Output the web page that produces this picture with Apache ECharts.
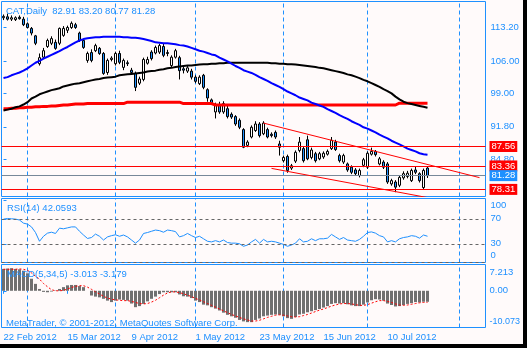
<!DOCTYPE html>
<html><head><meta charset="utf-8">
<script src="https://cdn.jsdelivr.net/npm/echarts@6/dist/echarts.min.js"></script>
<style>html,body{margin:0;padding:0;background:#FFFAFA;overflow:hidden}#c{width:527px;height:348px}</style>
</head><body><div id="c"></div>
<script>
// ---------- data ----------
const dateLabels = ['22 Feb 2012','15 Mar 2012','9 Apr 2012','1 May 2012','23 May 2012','15 Jun 2012','10 Jul 2012'];
const dateLabelIdx = [0,16,32,48,64,80,96];
const monthGridIdx = [6,28,48,70,91,114];

const opens = [115.3,115.5,115.0,114.9,115.4,115.0,114.0,113.0,111.4,105.4,
106.8,109.1,109.8,110.0,109.8,111.5,112.6,113.2,113.8,112.0,
110.4,106.1,107.8,108.2,108.7,107.6,103.5,106.3,105.4,107.6,
104.6,105.6,104.0,103.3,101.2,102.0,105.5,107.9,107.7,107.9,
109.1,107.8,105.0,106.8,106.7,104.3,103.8,103.8,102.5,101.1,
102.9,99.8,97.6,95.0,96.6,95.0,95.7,94.5,94.0,93.2,
91.2,87.8,89.6,91.0,92.4,90.3,91.2,90.2,90.6,88.1,
84.5,85.4,82.9,84.4,86.7,87.1,89.0,85.2,86.0,84.9,
85.3,85.9,87.1,88.5,85.6,84.2,83.8,83.1,82.5,81.3,
83.5,83.1,85.9,86.5,83.8,84.2,83.8,79.5,79.9,79.2,
80.8,81.1,80.2,82.5,81.7,78.7,82.91];
const highs = [116.0,116.2,115.8,115.6,115.8,115.5,114.3,113.3,111.6,107.6,
108.8,110.8,111.3,110.6,113.2,113.5,113.6,114.5,114.2,112.3,
110.6,108.0,108.5,109.7,109.0,107.9,106.5,107.0,108.0,108.2,
106.5,106.1,104.5,103.7,102.6,106.7,106.9,108.3,109.3,109.7,
109.8,108.4,107.2,108.6,107.1,104.8,105.0,104.3,102.9,102.9,
103.2,100.1,97.9,97.0,97.2,97.3,96.3,94.9,94.3,93.6,
91.5,88.9,92.1,93.0,92.8,93.0,91.6,90.6,91.0,88.8,
85.6,85.8,83.8,86.7,89.6,87.5,89.9,87.3,86.4,86.4,
86.5,86.9,89.6,89.0,86.0,86.0,84.1,83.5,82.9,82.8,
85.1,86.5,87.3,86.8,85.3,84.6,84.2,80.6,80.3,81.3,
82.2,82.3,82.8,83.2,82.0,82.8,83.20];
const lows = [114.8,114.7,114.6,114.6,114.9,113.5,113.0,111.5,109.4,105.0,
106.4,108.8,109.4,108.4,109.4,111.2,112.0,112.9,112.9,110.1,
108.6,105.6,105.7,107.9,107.3,103.0,103.0,105.9,105.0,105.3,
104.0,104.9,103.0,99.5,100.8,101.6,105.2,106.1,107.4,107.5,
106.8,107.0,104.6,106.5,102.0,103.3,103.4,102.0,101.2,100.8,
99.9,97.2,96.6,93.6,94.6,94.6,93.6,93.5,92.0,91.3,
87.2,87.4,89.3,90.7,89.5,90.0,89.3,89.5,89.2,85.6,
84.1,81.9,82.5,84.0,86.3,84.1,84.6,84.8,84.1,84.6,
84.9,85.6,86.8,86.6,84.1,83.8,82.1,81.6,81.3,80.9,
83.1,82.7,85.6,85.4,83.5,82.7,79.5,79.1,77.7,78.8,
80.4,80.7,79.9,81.6,79.8,78.4,80.77];
const closes = [115.6,115.0,115.3,115.3,115.1,113.8,113.2,112.0,109.8,106.7,
108.2,110.4,110.8,108.7,113.0,113.0,113.2,114.1,113.2,110.4,
108.9,107.6,106.1,109.3,107.6,103.3,106.1,106.6,107.6,105.7,
106.1,105.4,103.5,100.3,102.1,106.3,106.3,106.5,108.9,109.3,
107.2,107.6,106.8,108.2,103.9,104.0,104.5,102.5,101.6,102.5,
100.3,98.0,97.0,96.6,95.0,96.8,94.0,93.9,92.4,91.7,
87.4,88.5,91.7,92.4,89.9,92.6,89.6,89.9,89.6,87.4,
85.2,82.4,83.4,86.3,88.5,84.5,84.9,86.8,84.5,86.0,
86.1,86.5,88.9,86.9,84.5,85.6,82.5,82.0,81.7,82.4,
84.7,86.1,86.5,85.8,84.9,83.1,79.9,80.2,78.8,80.9,
81.7,81.8,82.4,82.0,80.2,82.4,81.28];

const maBlue = [102.3,102.5,102.9,103.2,103.5,103.9,104.4,105.0,105.6,106.0,
106.5,106.9,107.3,107.7,108.1,108.6,109.0,109.5,110.0,110.4,
110.7,110.9,111.0,111.1,111.1,111.2,111.2,111.2,111.2,111.2,
111.1,111.1,111.0,111.0,110.9,110.7,110.5,110.3,110.0,109.9,
109.8,109.8,109.7,109.6,109.4,109.3,109.1,108.8,108.5,108.2,
108.0,107.7,107.4,107.2,106.7,106.3,105.9,105.4,104.9,104.5,
104.0,103.7,103.4,103.0,102.5,102.1,101.7,101.2,100.8,100.4,
99.9,99.4,99.0,98.6,98.1,97.8,97.5,97.0,96.7,96.4,
96.1,95.6,95.2,94.8,94.3,93.9,93.5,93.0,92.6,92.2,
91.7,91.4,91.0,90.6,90.1,89.7,89.3,88.8,88.4,88.0,
87.6,87.1,86.8,86.5,86.1,85.9,85.8];
const maBlack = [95.3,95.5,95.7,96.0,96.2,96.6,97.1,97.9,98.3,98.8,
99.1,99.4,99.7,99.9,100.1,100.5,100.7,100.9,101.1,101.2,
101.4,101.6,101.8,102.0,102.1,102.3,102.4,102.5,102.6,102.9,
103.0,103.1,103.2,103.3,103.4,103.5,103.7,103.8,103.9,104.1,
104.2,104.4,104.5,104.7,104.8,104.9,105.0,105.0,105.1,105.2,
105.3,105.3,105.4,105.4,105.5,105.5,105.6,105.6,105.6,105.6,
105.6,105.6,105.6,105.6,105.6,105.6,105.6,105.5,105.5,105.4,
105.4,105.3,105.3,105.2,105.1,105.0,104.9,104.8,104.7,104.5,
104.4,104.2,104.0,103.8,103.6,103.4,103.1,102.9,102.6,102.3,
101.9,101.6,101.2,100.8,100.4,99.9,99.5,99.0,98.3,97.7,
97.2,96.9,96.7,96.5,96.3,96.1,95.9];
const maRed = [95.7,95.7,95.8,95.8,95.9,
95.9,96.0,96.0,96.1,96.1,96.2,96.2,
96.3,96.3,96.4,96.5,96.5,96.6,
96.7,96.7,96.7,96.8,96.8,96.8,96.8,96.8,96.8,96.8,96.8,96.8,96.8,
97.1,97.1,97.1,97.1,97.1,97.1,97.1,97.1,97.1,97.1,97.1,97.1,97.1,97.1,
96.8,96.8,96.8,96.8,96.8,96.8,96.8,96.8,
96.5,96.5,96.5,96.5,96.5,96.5,96.5,96.5,96.5,96.5,96.5,96.5,96.5,96.5,96.5,96.5,
96.5,96.5,96.5,96.5,96.5,96.5,96.5,96.5,96.5,96.5,96.5,96.5,96.5,96.5,96.5,96.5,
96.5,96.5,96.5,96.5,96.5,96.5,96.5,96.5,96.5,96.5,96.5,96.5,96.5,96.5,
96.9,96.9,96.9,96.9,96.9,96.9,96.9,96.9];

const rsi = [69.5,70.5,70,69.5,68,63,61.5,57,48,34,
42,47,48.5,46.5,55,54,55.5,57,57,50,
44,38.5,40,45.5,42,36,41,43,44.4,42,
44,41,36,31,36,46.5,48,50,52,51,
48.5,52,51,49.5,41,43,46.5,43,40,42,
38,34,33,35,33,36,32,31,31,30,
26,28,33,37,31,37,33,34,33,31,
29,26,28,31,38,33,34,38,35,38,
38,39,45,41,37,40,36,35,34,37,
42,48,49,47,43,41,33,35,33,38,
40,41,43,42,39,44,42.06];
const macdHist = [6.0,6.1,6.2,6.0,5.9,5.5,4.8,3.3,1.9,0.5,
-0.3,-0.4,-0.2,0.1,0.5,1.0,1.5,1.6,1.6,1.3,
1.0,0.0,-1.3,-1.6,-1.8,-2.2,-2.7,-3.1,-2.7,-2.4,
-2.5,-2.7,-3.5,-4.5,-4.2,-3.6,-2.9,-2.2,-1.6,-0.9,
-0.4,-0.4,-0.4,-0.4,-1.0,-1.5,-1.6,-2.0,-2.7,-3.1,
-3.8,-4.0,-4.5,-4.9,-5.4,-6.0,-6.6,-7.0,-7.4,-8.0,
-8.4,-8.6,-8.6,-8.0,-7.6,-7.0,-6.8,-6.6,-6.5,-6.6,
-7.0,-7.5,-7.7,-7.2,-6.5,-6.3,-5.9,-5.6,-5.3,-5.0,
-4.6,-4.2,-3.6,-3.4,-3.5,-3.4,-3.7,-4.0,-4.2,-4.2,
-3.8,-3.2,-2.6,-2.3,-2.4,-2.7,-3.5,-3.9,-4.3,-4.2,
-3.9,-3.6,-3.4,-3.1,-3.2,-3.0,-3.013];
const macdSignal = [5.9,5.9,5.9,5.9,6.0,5.9,5.6,4.9,4.0,3.2,
2.0,1.1,0.3,0.0,0.0,0.1,0.5,0.9,1.2,1.4,
1.4,1.0,0.4,-0.3,-0.9,-1.5,-2.0,-2.3,-2.5,-2.6,
-2.7,-2.7,-2.9,-3.2,-3.5,-3.6,-3.5,-3.1,-2.6,-1.9,
-1.2,-0.6,-0.3,-0.3,-0.5,-0.8,-1.2,-1.6,-2.1,-2.5,
-3.0,-3.5,-4.0,-4.5,-5.0,-5.5,-6.0,-6.5,-6.9,-7.3,
-7.7,-8.0,-8.3,-8.3,-8.1,-7.7,-7.3,-7.0,-6.7,-6.6,
-6.7,-6.9,-7.1,-7.2,-7.1,-6.8,-6.5,-6.1,-5.7,-5.3,
-5.0,-4.6,-4.2,-3.9,-3.6,-3.5,-3.5,-3.6,-3.8,-4.0,
-4.0,-3.8,-3.4,-3.0,-2.7,-2.7,-2.9,-3.2,-3.6,-3.9,
-4.0,-3.9,-3.7,-3.5,-3.3,-3.2,-3.179];

const priceTicks = [113.2,106.0,99.0,91.8,84.8];
const levelLines = [87.56,83.36,78.31];
const lastPrice = 81.28;
const rsiLevels = [70,30,0];
const rsiTicks = [100,70,30,0];
const macdTicks = [7.213,0,-10.073];
const upperTrend = [[65,92.6],[119,80.85]];
const lowerTrend = [[67,82.84],[110,75.9]];

const titleText = 'CAT,Daily  82.91 83.20 80.77 81.28';
const rsiText = 'RSI(14) 42.0593';
const macdText = 'MACD(5,34,5) -3.013 -3.179';
const copyText = 'MetaTrader, \u00A9 2001-2012, MetaQuotes Software Corp.';

// ---------- chart ----------
const FF = '"Liberation Sans", Arial, sans-serif';
const FS = 9.5;
const TXT = '#1E90FF';
const chart = echarts.init(document.getElementById('c'), null, {renderer:'canvas'});
const idx = a => a.map((v,i)=>[i,v]);
const yRanges = [[76.78,118.8],[0,102.5],[-10.073,7.213]];

function gridDef(top, h){
  return {left:1.5, top:top, width:484, height:h, show:true, borderColor:'#1E90FF', borderWidth:1, backgroundColor:'transparent', containLabel:false};
}
function xAx(g, showLabels){
  const o = {gridIndex:g, type:'value', min:-0.5, max:120.5, splitLine:{show:false}, axisLine:{show:false},
    axisTick:{show:false}, axisLabel:{show:false}};
  if(showLabels){
    o.axisTick = {show:true, customValues:dateLabelIdx, length:3, lineStyle:{color:TXT}};
    o.axisLabel = {show:true, customValues:dateLabelIdx, align:'left', margin:5, color:TXT, fontSize:FS, fontFamily:FF,
      formatter: v => dateLabels[dateLabelIdx.indexOf(v)]};
  }
  return o;
}
function vLineSeries(g){
  const r = yRanges[g];
  const d = [];
  monthGridIdx.forEach(i => { d.push([i, r[0]], [i, r[1]], [i, null]); });
  return {type:'line', xAxisIndex:g, yAxisIndex:g, data:d, z:1, silent:true, showSymbol:false, connectNulls:false,
    color:'#1E90FF', itemStyle:{color:'#1E90FF'},
    lineStyle:{color:'#1E90FF', type:[4,3], width:1, opacity:1}};
}
const lblBase = {show:true, position:'end', distance:4, color:'#fff', fontSize:FS, fontFamily:FF, padding:[1,2,0,2], lineHeight:10};
const rsiLineStyle = {color:'#666666', type:[3,3], width:1};

const option = {
  animation:false,
  backgroundColor:'#FFFAFA',
  grid:[gridDef(1.5,195), gridDef(198.5,64), gridDef(264.5,63)],
  xAxis:[xAx(0,false), xAx(1,false), xAx(2,true)],
  yAxis:[
    {gridIndex:0, type:'value', position:'right', min:yRanges[0][0], max:yRanges[0][1], splitLine:{show:false}, axisLine:{show:false},
      axisTick:{show:true, customValues:priceTicks, length:3, lineStyle:{color:TXT}},
      axisLabel:{customValues:priceTicks, formatter:v=>v.toFixed(2), color:TXT, fontSize:FS, fontFamily:FF, margin:5}},
    {gridIndex:1, type:'value', position:'right', min:yRanges[1][0], max:yRanges[1][1], splitLine:{show:false}, axisLine:{show:false},
      axisTick:{show:true, customValues:rsiTicks, length:3, lineStyle:{color:TXT}},
      axisLabel:{customValues:rsiTicks, color:TXT, fontSize:FS, fontFamily:FF, margin:5,
        formatter:v=> v===rsiTicks[0] ? '{t|'+v+'}' : (v===rsiTicks[3] ? '{b|'+v+'}' : '{m|'+v+'}'),
        rich:{t:{padding:[11,0,0,0],color:TXT,fontSize:FS,fontFamily:FF}, b:{padding:[0,0,14,0],color:TXT,fontSize:FS,fontFamily:FF}, m:{color:TXT,fontSize:FS,fontFamily:FF}}}},
    {gridIndex:2, type:'value', position:'right', min:yRanges[2][0], max:yRanges[2][1], splitLine:{show:false}, axisLine:{show:false},
      axisTick:{show:true, customValues:macdTicks, length:3, lineStyle:{color:TXT}},
      axisLabel:{customValues:macdTicks, color:TXT, fontSize:FS, fontFamily:FF, margin:4,
        formatter:v=> v===macdTicks[0] ? '{t|'+v.toFixed(3)+'}' : (v===macdTicks[2] ? '{b|'+v.toFixed(3)+'}' : '{m|0.00}'),
        rich:{t:{padding:[16,0,0,0],color:TXT,fontSize:FS,fontFamily:FF}, b:{padding:[0,0,12,0],color:TXT,fontSize:9,fontFamily:FF}, m:{color:TXT,fontSize:FS,fontFamily:FF}}}}
  ],
  series:[
    vLineSeries(0), vLineSeries(1), vLineSeries(2),
    {type:'candlestick', xAxisIndex:0, yAxisIndex:0, z:3, barWidth:3,
      data: opens.map((o,i)=>[i,o,closes[i],lows[i],highs[i]]), encode:{x:0,y:[1,2,3,4]},
      itemStyle:{color:'#ffffff', color0:'#1E90FF', borderColor:'#000', borderColor0:'#000', borderWidth:1}},
    {type:'line', xAxisIndex:0, yAxisIndex:0, z:4, data:idx(maRed), showSymbol:false, lineStyle:{color:'#FF0000', width:3}},
    {type:'line', xAxisIndex:0, yAxisIndex:0, z:4, data:idx(maBlack), showSymbol:false, lineStyle:{color:'#000000', width:2}},
    {type:'line', xAxisIndex:0, yAxisIndex:0, z:4, data:idx(maBlue), showSymbol:false, lineStyle:{color:'#0000FF', width:2}},
    {type:'line', xAxisIndex:0, yAxisIndex:0, z:5, data:upperTrend, showSymbol:false, clip:true, lineStyle:{color:'#FF0000', width:1}},
    {type:'line', xAxisIndex:0, yAxisIndex:0, z:5, data:lowerTrend, showSymbol:false, clip:true, lineStyle:{color:'#FF0000', width:1}},
    {type:'line', xAxisIndex:0, yAxisIndex:0, z:6, data:[], silent:true,
      markLine:{symbol:['none','none'], silent:true, animation:false,
        data: levelLines.map(v=>({yAxis:v, lineStyle:{color:'#FF0000', width:1, type:'solid'},
          label:Object.assign({}, lblBase, {formatter:v.toFixed(2), backgroundColor:'#FF0000'})}))
          .concat([{yAxis:lastPrice, lineStyle:{color:'#778899', width:1, type:'solid'},
          label:Object.assign({}, lblBase, {formatter:lastPrice.toFixed(2), backgroundColor:'#1E90FF'})}])}},
    {type:'line', xAxisIndex:1, yAxisIndex:1, z:3, data:[], silent:true, color:'#666666',
      markLine:{symbol:['none','none'], silent:true, animation:false, label:{show:false},
        lineStyle:rsiLineStyle, data:rsiLevels.map(v=>({yAxis:v, lineStyle:rsiLineStyle}))}},
    {type:'line', xAxisIndex:1, yAxisIndex:1, z:4, data:idx(rsi), showSymbol:false, lineStyle:{color:'#1E90FF', width:1}},
    {type:'bar', xAxisIndex:2, yAxisIndex:2, z:3, data:idx(macdHist), barWidth:3, itemStyle:{color:'#707070'}},
    {type:'line', xAxisIndex:2, yAxisIndex:2, z:4, data:idx(macdSignal), showSymbol:false, lineStyle:{color:'#FF0000', width:1, type:[2,2]}}
  ],
  graphic:[
    {type:'text', x:6, y:11, z:100, style:{text:titleText, fill:TXT, font:FS+'px '+FF, verticalAlign:'middle'}},
    {type:'text', x:7, y:208, z:100, style:{text:rsiText, fill:TXT, font:FS+'px '+FF, verticalAlign:'middle'}},
    {type:'text', x:7, y:274, z:100, style:{text:macdText, fill:TXT, font:FS+'px '+FF, verticalAlign:'middle'}},
    {type:'text', x:6, y:323.5, z:100, style:{text:copyText, fill:TXT, font:FS+'px '+FF, verticalAlign:'middle'}},
    {type:'rect', z:100, shape:{x:523, y:0, width:4, height:348}, style:{fill:'#000'}},
    {type:'rect', z:100, shape:{x:0, y:344, width:527, height:4}, style:{fill:'#000'}}
  ]
};
chart.setOption(option);
</script>
</body></html>
